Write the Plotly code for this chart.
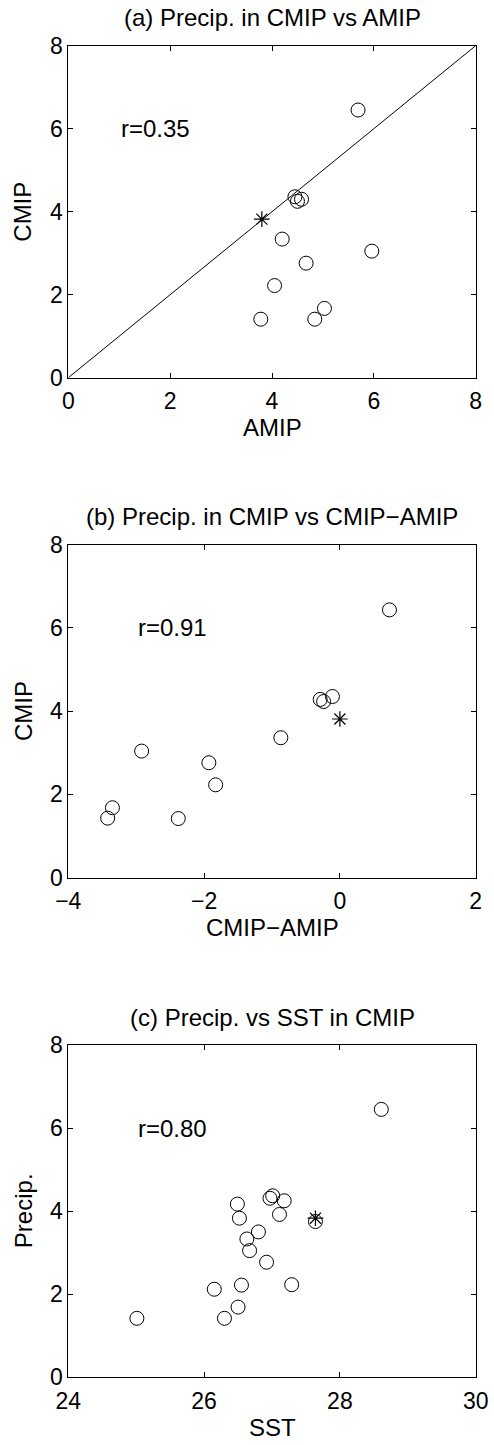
import plotly.graph_objects as go

W, H = 494, 1445

# ---- data ----
# (a) CMIP vs AMIP precipitation
a_amip = [5.69, 4.45, 4.50, 4.58, 4.20, 5.96, 4.67, 4.05, 3.78, 4.84, 5.03]
a_cmip = [6.45, 4.36, 4.25, 4.30, 3.34, 3.05, 2.76, 2.22, 1.41, 1.41, 1.67]
a_star_x = [3.80]
a_star_y = [3.82]
a_diag = [0, 8]

# (b) CMIP vs CMIP-AMIP
b_diff = [0.73, -0.29, -0.24, -0.11, -0.87, -2.92, -1.93, -1.83, -3.35, -3.42, -2.38]
b_cmip = [6.43, 4.28, 4.23, 4.35, 3.36, 3.04, 2.76, 2.23, 1.68, 1.43, 1.42]
b_star_x = [0.0]
b_star_y = [3.81]

# (c) Precip vs SST in CMIP
c_sst = [28.61, 26.49, 26.97, 27.01, 27.18, 26.52, 27.11, 27.64, 26.80, 26.63,
         26.67, 26.92, 26.15, 26.55, 27.29, 26.50, 26.30, 25.01]
c_pr = [6.45, 4.17, 4.31, 4.37, 4.25, 3.83, 3.92, 3.75, 3.50, 3.33,
        3.05, 2.77, 2.12, 2.22, 2.23, 1.69, 1.42, 1.42]
c_star_x = [27.64]
c_star_y = [3.83]

titles = ["(a) Precip. in CMIP vs AMIP", "(b) Precip. in CMIP vs CMIP\u2212AMIP",
          "(c) Precip. vs SST in CMIP"]
xlabels = ["AMIP", "CMIP\u2212AMIP", "SST"]
ylabels = ["CMIP", "CMIP", "Precip."]
rlabels = ["r=0.35", "r=0.91", "r=0.80"]
r_pos = [(1.0, 6.0), (-3.0, 6.0), (25.0, 6.0)]
xranges = [[0, 8], [-4, 2], [24, 30]]
yrange = [0, 8]

# ---- layout geometry (pixels) ----
FONT = "Liberation Sans, Arial, Helvetica, sans-serif"
FS = 24
FS_TICK = 23
left_px, right_px = 68.3, 475.7
panels_px = [(45.7, 377.7), (544.5, 877.7), (1045.0, 1377.3)]  # (top, bottom)


def fx(px):
    return px / W


def fy(py):
    return 1 - py / H


fig = go.Figure()

circle_style = dict(mode="markers", marker=dict(symbol="circle-open", size=14, color="black",
                                                line=dict(width=1, color="black")),
                    showlegend=False, hoverinfo="x+y")
star_style = dict(mode="markers", marker=dict(symbol="asterisk-open", size=13, color="black",
                                              line=dict(width=1.2, color="black")),
                  showlegend=False, hoverinfo="x+y")

# panel a
fig.add_trace(go.Scatter(x=a_diag, y=a_diag, mode="lines", line=dict(color="black", width=1),
                         showlegend=False, hoverinfo="skip", xaxis="x", yaxis="y"))
fig.add_trace(go.Scatter(x=a_amip, y=a_cmip, xaxis="x", yaxis="y", **circle_style))
fig.add_trace(go.Scatter(x=a_star_x, y=a_star_y, xaxis="x", yaxis="y", **star_style))
# panel b
fig.add_trace(go.Scatter(x=b_diff, y=b_cmip, xaxis="x2", yaxis="y2", **circle_style))
fig.add_trace(go.Scatter(x=b_star_x, y=b_star_y, xaxis="x2", yaxis="y2", **star_style))
# panel c
fig.add_trace(go.Scatter(x=c_sst, y=c_pr, xaxis="x3", yaxis="y3", **circle_style))
fig.add_trace(go.Scatter(x=c_star_x, y=c_star_y, xaxis="x3", yaxis="y3", **star_style))

axis_common = dict(showline=True, linecolor="black", linewidth=1, mirror="ticks",
                   ticks="inside", ticklen=5, tickwidth=1, tickcolor="black",
                   showgrid=False, zeroline=False, dtick=2, automargin=False,
                   tickfont=dict(family=FONT, size=FS_TICK, color="black"))

layout = dict(width=W, height=H, margin=dict(l=0, r=0, t=0, b=0, autoexpand=False),
              template="none",
              paper_bgcolor="white", plot_bgcolor="white",
              font=dict(family=FONT, size=FS, color="black"))

annotations = []
for i, (top, bot) in enumerate(panels_px):
    sfx = "" if i == 0 else str(i + 1)
    layout["xaxis" + sfx] = dict(domain=[fx(left_px), fx(right_px)], range=xranges[i],
                                 anchor="y" + sfx, tick0=xranges[i][0], ticklabelstandoff=3,
                                 **axis_common)
    layout["yaxis" + sfx] = dict(domain=[fy(bot), fy(top)], range=yrange,
                                 anchor="x" + sfx, tick0=0, **axis_common)
    cx = (left_px + right_px) / 2
    annotations.append(dict(text=titles[i], xref="paper", yref="paper", x=fx(cx), y=fy(top - 28),
                            xanchor="center", yanchor="middle", showarrow=False,
                            font=dict(family=FONT, size=FS, color="black")))
    annotations.append(dict(text=xlabels[i], xref="paper", yref="paper", x=fx(cx), y=fy(bot + 50),
                            xanchor="center", yanchor="middle", showarrow=False,
                            font=dict(family=FONT, size=FS, color="black")))
    annotations.append(dict(text=ylabels[i], xref="paper", yref="paper", x=fx(23),
                            y=fy((top + bot) / 2), textangle=-90,
                            xanchor="center", yanchor="middle", showarrow=False,
                            font=dict(family=FONT, size=FS, color="black")))
    annotations.append(dict(text=rlabels[i], xref="x" + sfx, yref="y" + sfx,
                            x=r_pos[i][0], y=r_pos[i][1], xanchor="left", yanchor="middle",
                            showarrow=False, font=dict(family=FONT, size=FS, color="black")))

layout["annotations"] = annotations
fig.update_layout(**layout)
fig.write_html("out.html")
